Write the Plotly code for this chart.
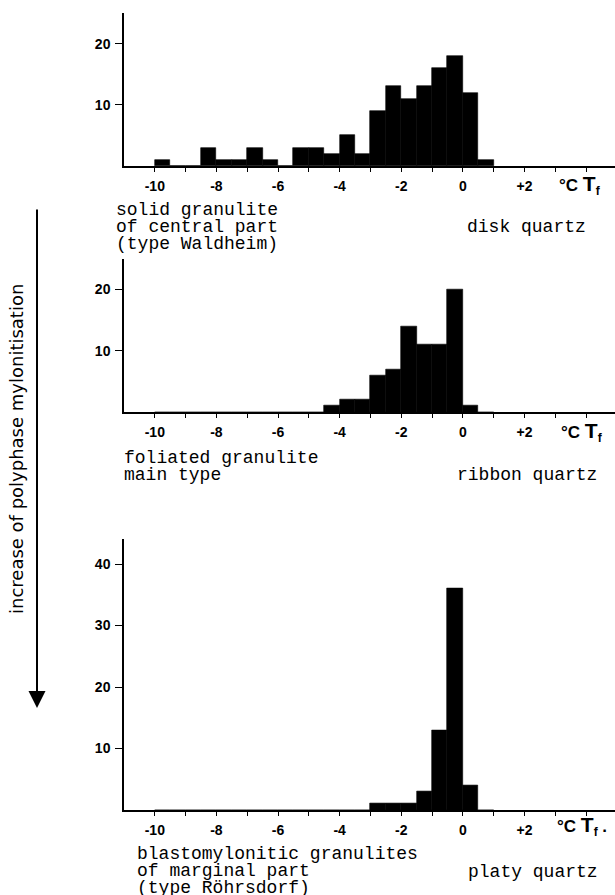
import plotly.graph_objects as go

W, H = 615, 895

# bin left edges (0.5 degC wide) from -10 to +0.5
bin_left = [-10 + 0.5 * i for i in range(22)]
bin_centers = [b + 0.25 for b in bin_left]

# counts per bin
disk_quartz = [1, 0, 0, 3, 1, 1, 3, 1, 0, 3, 3, 2, 5, 2, 9, 13, 11, 13, 16, 18, 12, 1]
ribbon_quartz = [0, 0, 0, 0, 0, 0, 0, 0, 0, 0, 0, 1, 2, 2, 6, 7, 14, 11, 11, 20, 1, 0]
platy_quartz = [0, 0, 0, 0, 0, 0, 0, 0, 0, 0, 0, 0, 0, 0, 1, 1, 1, 3, 13, 36, 4, 0]

x_tickvals = [-10, -8, -6, -4, -2, 0, 2]
x_ticktext = ["-10", "-8", "-6", "-4", "-2", "0", "+2"]
x_minorvals = [-9, -7, -5, -3, -1, 1, 3, 4]

panels = [
    dict(counts=disk_quartz, yrange=[0, 25], yticks=[10, 20], bottom=166, top=13),
    dict(counts=ribbon_quartz, yrange=[0, 25], yticks=[10, 20], bottom=412, top=258.5),
    dict(counts=platy_quartz, yrange=[0, 44], yticks=[10, 20, 30, 40], bottom=810, top=539.4),
]

def py(v):
    return 1 - v / H

def px(v):
    return v / W

fig = go.Figure()
layout = dict(
    width=W, height=H,
    margin=dict(l=0, r=0, t=0, b=0),
    paper_bgcolor="white", plot_bgcolor="white",
    showlegend=False, bargap=0, hovermode=False,
)

tick_font = dict(family="Liberation Sans", size=14, color="black", weight="bold")

for i, p in enumerate(panels, start=1):
    sfx = "" if i == 1 else str(i)
    fig.add_trace(go.Bar(
        x=bin_centers, y=p["counts"], width=0.5,
        marker=dict(color="black", line=dict(color="black", width=0.6)),
        xaxis="x" + sfx, yaxis="y" + sfx,
    ))
    layout["xaxis" + sfx] = dict(
        domain=[px(124), 1], range=[-11.0, 4.94],
        anchor="y" + sfx,
        showgrid=False, zeroline=False, showline=True, linecolor="black", linewidth=2,
        tickmode="array", tickvals=x_tickvals, ticktext=x_ticktext,
        ticks="outside", ticklen=4, tickwidth=1, tickcolor="black",
        minor=dict(tickmode="array", tickvals=x_minorvals, ticks="outside",
                   ticklen=4, tickwidth=1, tickcolor="black", showgrid=False),
        tickfont=tick_font, ticklabelstandoff=2,
    )
    layout["yaxis" + sfx] = dict(
        domain=[py(p["bottom"]), py(p["top"])], range=p["yrange"],
        anchor="x" + sfx,
        showgrid=False, zeroline=False, showline=True, linecolor="black", linewidth=1.5,
        tickmode="array", tickvals=p["yticks"], ticktext=[str(t) for t in p["yticks"]],
        ticks="outside", ticklen=7, tickwidth=1, tickcolor="black",
        tickfont=tick_font, ticklabelstandoff=2,
    )

fig.update_layout(**layout)

mono = dict(family="Liberation Mono", size=18, color="black")
texts = [
    ("solid granulite", 114, 210),
    ("of central part", 114, 227),
    ("(type Waldheim)", 114, 244),
    ("disk quartz", 465, 227),
    ("foliated granulite", 122, 458),
    ("main type", 122, 475),
    ("ribbon quartz", 455, 475),
    ("blastomylonitic granulites", 135, 854),
    ("of marginal part", 135, 871),
    ("(type Röhrsdorf)", 135, 888),
    ("platy quartz", 466, 872),
]
for t, x, y in texts:
    fig.add_annotation(text=t, x=px(x), y=py(y), xref="paper", yref="paper",
                       xanchor="left", yanchor="middle", showarrow=False, font=mono)

unit_label = "°C <span style='font-size:21px'>T</span><sub>f</sub>"
unit_texts = [
    (unit_label, 557, 185),
    (unit_label, 559, 432),
    (unit_label + " .", 555, 826),
]
for t, x, y in unit_texts:
    fig.add_annotation(text=t, x=px(x), y=py(y), xref="paper", yref="paper",
                       xanchor="left", yanchor="middle", showarrow=False,
                       font=dict(family="Liberation Sans", size=17, color="black", weight="bold"))

# arrow on the left
tip = 708
fig.add_annotation(x=px(37), y=py(tip), xref="paper", yref="paper",
                   ax=0, ay=-(tip - 208), axref="pixel", ayref="pixel",
                   showarrow=True, arrowhead=2, arrowsize=1.7, arrowwidth=2,
                   arrowcolor="black", text="")
fig.add_annotation(text="increase of polyphase mylonitisation",
                   x=px(16), y=py(449), xref="paper", yref="paper",
                   textangle=-90, showarrow=False, xanchor="center", yanchor="middle",
                   font=dict(family="DejaVu Sans", size=18, color="black"))

fig.write_html("out.html", config={"displayModeBar": False},
               post_script="document.body.style.margin='0';document.body.style.padding='0';document.body.style.overflow='hidden';")
